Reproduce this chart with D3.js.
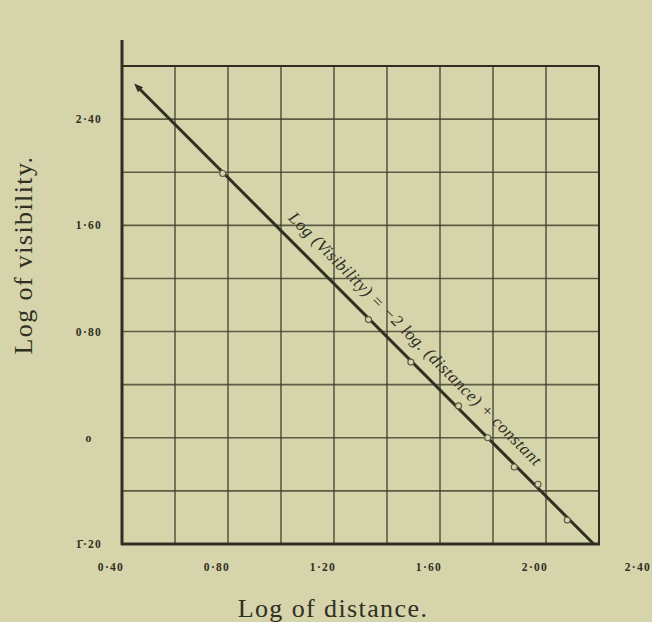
<!DOCTYPE html>
<html>
<head>
<meta charset="utf-8">
<script src="https://cdn.jsdelivr.net/npm/d3@7"></script>
<style>
  html, body { margin: 0; padding: 0; background: #d5d4ab; }
  svg { display: block; }
</style>
</head>
<body>
<svg id="chart" width="652" height="622"></svg>
<script>
// ---- data ----
const xGridValues = [0.40, 0.60, 0.80, 1.00, 1.20, 1.40, 1.60, 1.80, 2.00, 2.20];
const yGridValues = [-0.80, -0.40, 0.00, 0.40, 0.80, 1.20, 1.60, 2.00, 2.40, 2.80];
const xTickValues = [0.40, 0.80, 1.20, 1.60, 2.00, 2.40];
const xTickLabels = ["0·40", "0·80", "1·20", "1·60", "2·00", "2·40"];
const yTickValues = [2.40, 1.60, 0.80, 0.00, -0.80];
const yTickLabels = ["2·40", "1·60", "0·80", "o", "1\u0304·20"];
const obsLogDistance = [0.78, 1.33, 1.49, 1.67, 1.78, 1.88, 1.97, 2.08];
const obsLogVisibility = [1.99, 0.89, 0.57, 0.24, 0.00, -0.22, -0.35, -0.62];
const fitLogDistance = [0.46, 2.18];
const fitLogVisibility = [2.64, -0.80];
const lawLabel = "Log (Visibility) = \u22122 log. (distance) + constant";
const xTitle = "Log of distance.";
const yTitle = "Log of visibility.";

// ---- drawing ----
const ink = "#2f2f22";
const W = 652;
const svg = d3.select("#chart");
const x = d3.scaleLinear().domain([0.40, 2.20]).range([122, 599]);
const y = d3.scaleLinear().domain([-0.80, 2.80]).range([544, 66]);

const grid = svg.append("g").attr("stroke", "#3d3d2c").attr("fill", "none");
grid.selectAll("line.v").data(xGridValues).join("line")
  .attr("class", "v")
  .attr("x1", d => x(d)).attr("x2", d => x(d))
  .attr("y1", y(-0.80)).attr("y2", y(2.80))
  .attr("stroke-width", 1.6).attr("opacity", 0.8);
grid.selectAll("line.h").data(yGridValues).join("line")
  .attr("class", "h")
  .attr("y1", d => y(d)).attr("y2", d => y(d))
  .attr("x1", x(0.40)).attr("x2", x(2.20))
  .attr("stroke-width", 1.6).attr("opacity", 0.8);

// frame
svg.append("line").attr("x1", x(0.40)).attr("x2", x(0.40))
  .attr("y1", y(2.80) - 26).attr("y2", y(-0.80) + 1)
  .attr("stroke", ink).attr("stroke-width", 3);
svg.append("line").attr("x1", x(0.40) - 1).attr("x2", x(2.20) + 1)
  .attr("y1", y(-0.80)).attr("y2", y(-0.80))
  .attr("stroke", ink).attr("stroke-width", 3);
svg.append("line").attr("x1", x(0.40)).attr("x2", x(2.20))
  .attr("y1", y(2.80)).attr("y2", y(2.80))
  .attr("stroke", ink).attr("stroke-width", 2);
svg.append("line").attr("x1", x(2.20)).attr("x2", x(2.20))
  .attr("y1", y(2.80)).attr("y2", y(-0.80))
  .attr("stroke", ink).attr("stroke-width", 2);

// fitted line with small arrow head
svg.append("defs").append("marker")
  .attr("id", "arrow").attr("viewBox", "0 0 10 10")
  .attr("refX", 4).attr("refY", 5)
  .attr("markerWidth", 3).attr("markerHeight", 3)
  .attr("orient", "auto-start-reverse")
  .append("path").attr("d", "M0,1 L10,5 L0,9 z").attr("fill", ink);

const fitPts = fitLogDistance.map((d, i) => [x(d), y(fitLogVisibility[i])]);
svg.append("path")
  .attr("d", d3.line()(fitPts))
  .attr("stroke", ink).attr("stroke-width", 3).attr("fill", "none")
  .attr("marker-start", "url(#arrow)");

// observations
svg.selectAll("circle.obs").data(obsLogDistance).join("circle")
  .attr("class", "obs")
  .attr("cx", d => x(d))
  .attr("cy", (d, i) => y(obsLogVisibility[i]))
  .attr("r", 3)
  .attr("fill", "#d5d4ab").attr("stroke", "#5a5a44").attr("stroke-width", 1.1);

// law label parallel to the line
const angle = Math.atan2(fitPts[1][1] - fitPts[0][1], fitPts[1][0] - fitPts[0][0]) * 180 / Math.PI;
const t0 = 0.99;
const p0x = x(t0);
const p0y = fitPts[0][1] + (p0x - fitPts[0][0]) * (fitPts[1][1] - fitPts[0][1]) / (fitPts[1][0] - fitPts[0][0]);
svg.append("text")
  .attr("transform", `translate(${p0x},${p0y}) rotate(${angle}) translate(0,-13)`)
  .attr("font-family", "Liberation Serif, serif")
  .attr("font-style", "italic")
  .attr("font-size", 17)
  .attr("fill", ink)
  .attr("textLength", 350).attr("lengthAdjust", "spacing")
  .text(lawLabel);

// tick labels
const tickFont = { family: "Liberation Serif, serif", size: 11.5 };
const xt = svg.selectAll("text.xt").data(xTickValues).join("text")
  .attr("class", "xt")
  .attr("y", 571)
  .attr("text-anchor", "middle")
  .attr("font-family", tickFont.family).attr("font-size", tickFont.size)
  .attr("font-weight", "bold")
  .attr("letter-spacing", 1.3)
  .attr("fill", ink)
  .text((d, i) => xTickLabels[i])
  .attr("x", d => x(d) - 11);
// keep the last label inside the picture
xt.each(function () {
  const b = this.getBBox();
  if (b.x + b.width > W - 1) {
    d3.select(this).attr("x", +d3.select(this).attr("x") - (b.x + b.width - (W - 1)));
  }
});

svg.selectAll("text.yt").data(yTickValues).join("text")
  .attr("class", "yt")
  .attr("x", 89).attr("y", d => y(d) + 4)
  .attr("text-anchor", "middle")
  .attr("font-family", tickFont.family).attr("font-size", tickFont.size)
  .attr("font-weight", "bold")
  .attr("letter-spacing", 1.3)
  .attr("fill", ink)
  .text((d, i) => yTickLabels[i]);

// axis titles
svg.append("text")
  .attr("x", 333).attr("y", 617)
  .attr("text-anchor", "middle")
  .attr("font-family", "Liberation Serif, serif").attr("font-size", 26)
  .attr("letter-spacing", 1.4)
  .attr("fill", ink)
  .text(xTitle);

svg.append("text")
  .attr("transform", "translate(32,255) rotate(-90)")
  .attr("text-anchor", "middle")
  .attr("font-family", "Liberation Serif, serif").attr("font-size", 26)
  .attr("letter-spacing", 1.4)
  .attr("fill", ink)
  .text(yTitle);
</script>
</body>
</html>
